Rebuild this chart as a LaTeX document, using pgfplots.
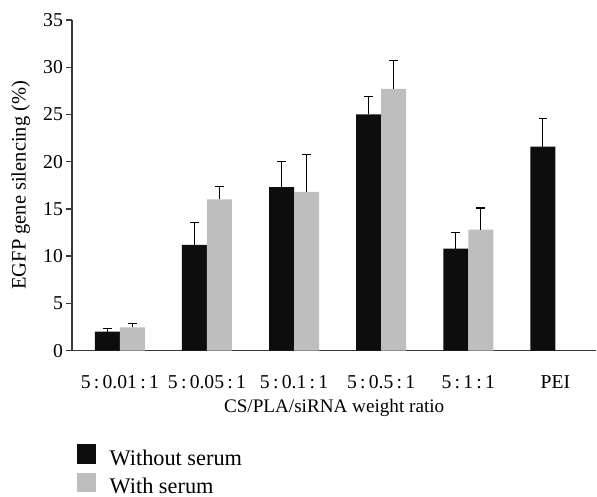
\documentclass[border=0pt]{standalone}
\usepackage{fontspec}
\setmainfont{Liberation Serif}
\usepackage{pgfplots}
\pgfplotsset{compat=1.18}
\definecolor{barblack}{HTML}{0D0D0D}
\definecolor{bargray}{HTML}{BEBEBE}
\definecolor{axgray}{HTML}{3A3A3A}
\begin{document}
\begin{tikzpicture}
\begin{axis}[
  name=ax,
  scale only axis, width=315pt, height=198.6pt,
  xmin=-0.55, xmax=5.47, ymin=0, ymax=35,
  axis x line=bottom, axis y line=left,
  axis line style={-, axgray, line width=0.8pt},
  ytick={0,5,...,35}, xtick={0,...,5},
  xticklabels={{5\,:\,0.01\,:\,1},{5\,:\,0.05\,:\,1},{5\,:\,0.1\,:\,1},{5\,:\,0.5\,:\,1},{5\,:\,1\,:\,1},{PEI}},
  x tick style={draw=none},
  y tick style={axgray, line width=0.8pt},
  tick align=outside, ytick pos=left, major tick length=3.5pt,
  tick label style={font=\fontsize{11.8}{13}\selectfont},
  label style={font=\fontsize{11.5}{13}\selectfont},
  /pgf/number format/assume math mode=true,
  xticklabel style={yshift=-8pt},
  yticklabel style={xshift=1.6pt},
  xlabel={CS/PLA/siRNA weight ratio},
  xlabel style={yshift=1pt},
  ylabel={EGFP gene silencing (\%)},
  ylabel style={font=\fontsize{12.3}{14}\selectfont, yshift=1pt},
  ybar, bar width=0.287,
  legend style={draw=none, fill=none, at={(rel axis cs:0,0)}, anchor=north west,
    xshift=3pt, yshift=-56.2pt, inner sep=0pt, row sep=3.2pt, column sep=8pt,
    font=\fontsize{13.4}{15}\selectfont, legend cell align=left,
    nodes={inner sep=0pt}},
  legend image code/.code={\fill[#1] (0pt,-3pt) rectangle (11.5pt,8.5pt);},
]
\addplot[fill=barblack, draw=none, bar shift=-0.1435,
  error bars/.cd, y dir=plus, y explicit, error mark=|,
  error bar style={black, line width=0.7pt},
  error mark options={black, line width=0.7pt, mark size=2.6pt}]
  coordinates {(0,2.0) +- (0,0.3) (1,11.2) +- (0,2.4) (2,17.3) +- (0,2.7)
               (3,25.0) +- (0,1.9) (4,10.8) +- (0,1.7) (5,21.6) +- (0,3.0)};
\addplot[fill=bargray, draw=none, bar shift=0.1435,
  error bars/.cd, y dir=plus, y explicit, error mark=|,
  error bar style={black, line width=0.7pt},
  error mark options={black, line width=0.7pt, mark size=2.6pt}]
  coordinates {(0,2.45) +- (0,0.45) (1,16.0) +- (0,1.35) (2,16.8) +- (0,4.0)
               (3,27.7) +- (0,3.0) (4,12.8) +- (0,2.3)};
\legend{Without serum, With serum}
\end{axis}
\path ([xshift=-43.2pt,yshift=-84.6pt]ax.south west) rectangle ([xshift=315pt,yshift=210.6pt]ax.south west);
\end{tikzpicture}
\end{document}
